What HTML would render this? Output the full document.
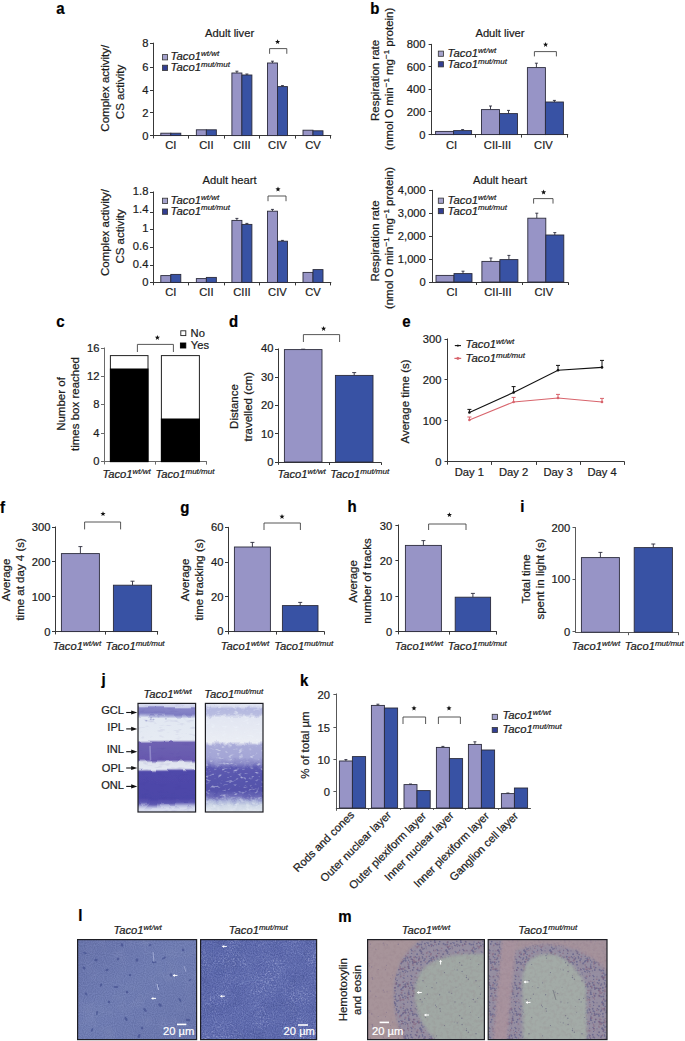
<!DOCTYPE html>
<html><head><meta charset="utf-8"><title>Taco1 figure</title>
<style>
html,body{margin:0;padding:0;background:#fff;width:685px;height:1041px;overflow:hidden;}
svg{display:block;font-family:"Liberation Sans",sans-serif;}
text{font-family:"Liberation Sans",sans-serif;stroke:#1c1c1c;stroke-width:0.22px;}
</style></head><body>
<svg width="685" height="1041" viewBox="0 0 685 1041" font-family="Liberation Sans, sans-serif" fill="#1c1c1c" color="#1c1c1c"><defs>
<linearGradient id="jwt" x1="0" y1="0" x2="0" y2="1">
 <stop offset="0" stop-color="#dcdff0"/><stop offset="0.028" stop-color="#d0d4ec"/><stop offset="0.042" stop-color="#8886c8"/>
 <stop offset="0.097" stop-color="#7e7cc2"/><stop offset="0.12" stop-color="#b0b4dc"/><stop offset="0.139" stop-color="#e2e8f2"/>
 <stop offset="0.337" stop-color="#e6ebf3"/><stop offset="0.36" stop-color="#6e62b2"/><stop offset="0.52" stop-color="#6658ae"/>
 <stop offset="0.546" stop-color="#dfe3ef"/><stop offset="0.606" stop-color="#e4e8f2"/><stop offset="0.629" stop-color="#5048aa"/>
 <stop offset="0.873" stop-color="#4c46a8"/><stop offset="0.919" stop-color="#5c56b0"/><stop offset="0.951" stop-color="#b8bce0"/>
 <stop offset="0.974" stop-color="#d8ddef"/><stop offset="1" stop-color="#d4d8ec"/>
</linearGradient>
<linearGradient id="jmut" x1="0" y1="0" x2="0" y2="1">
 <stop offset="0" stop-color="#e0e4f0"/><stop offset="0.025" stop-color="#d8dcee"/><stop offset="0.05" stop-color="#b4b8e0"/>
 <stop offset="0.10" stop-color="#b8bce0"/><stop offset="0.13" stop-color="#e2e6f2"/><stop offset="0.35" stop-color="#eaedf4"/>
 <stop offset="0.39" stop-color="#a8aad8"/><stop offset="0.50" stop-color="#a4a6d6"/><stop offset="0.55" stop-color="#8c8cc8"/>
 <stop offset="0.60" stop-color="#5c5ab0"/><stop offset="0.80" stop-color="#5452aa"/><stop offset="0.86" stop-color="#6e6cb8"/>
 <stop offset="0.90" stop-color="#a8b0d8"/><stop offset="0.94" stop-color="#cdd6e6"/><stop offset="1" stop-color="#e2e8f0"/>
</linearGradient>
<linearGradient id="lwt" x1="0" y1="0" x2="1" y2="1">
 <stop offset="0" stop-color="#6672ab"/><stop offset="0.45" stop-color="#6e7cb4"/><stop offset="1" stop-color="#6875ad"/>
</linearGradient>
<linearGradient id="lmut" x1="0" y1="0" x2="1" y2="1">
 <stop offset="0" stop-color="#5664ac"/><stop offset="0.5" stop-color="#5a68b0"/><stop offset="1" stop-color="#5866ae"/>
</linearGradient>
<radialGradient id="mwt" cx="0.78" cy="0.72" r="0.75">
 <stop offset="0" stop-color="#9ea99f"/><stop offset="0.48" stop-color="#a0a8a0"/><stop offset="0.56" stop-color="#8c86a4"/>
 <stop offset="0.70" stop-color="#8a82a2"/><stop offset="0.78" stop-color="#a898a0"/><stop offset="1" stop-color="#aa9a9e"/>
</radialGradient>
<radialGradient id="mmut" cx="0.52" cy="0.85" r="0.62">
 <stop offset="0" stop-color="#9fab9f"/><stop offset="0.62" stop-color="#a2aaa0"/><stop offset="0.70" stop-color="#8a84a6"/>
 <stop offset="0.86" stop-color="#8c82a0"/><stop offset="0.92" stop-color="#a8909c"/><stop offset="1" stop-color="#8e86a4"/>
</radialGradient>

<filter id="fSpeckW" color-interpolation-filters="sRGB" x="0" y="0" width="1" height="1">
 <feTurbulence type="fractalNoise" baseFrequency="0.55" numOctaves="2" seed="7"/>
 <feColorMatrix type="matrix" values="0 0 0 0 0.85  0 0 0 0 0.88  0 0 0 0 1  5 0 0 0 -2.85"/>
 <feComposite in2="SourceAlpha" operator="in"/>
</filter>
<filter id="fSpeckW2" color-interpolation-filters="sRGB" x="0" y="0" width="1" height="1">
 <feTurbulence type="fractalNoise" baseFrequency="0.5" numOctaves="2" seed="21"/>
 <feColorMatrix type="matrix" values="0 0 0 0 0.9  0 0 0 0 0.92  0 0 0 0 1  4 0 0 0 -2.35"/>
 <feComposite in2="SourceAlpha" operator="in"/>
</filter>
<filter id="fMottle" color-interpolation-filters="sRGB" x="0" y="0" width="1" height="1">
 <feTurbulence type="fractalNoise" baseFrequency="0.07" numOctaves="3" seed="2"/>
 <feColorMatrix type="matrix" values="0 0 0 0 0.25  0 0 0 0 0.28  0 0 0 0 0.55  1.6 0 0 0 -0.72"/>
 <feComposite in2="SourceAlpha" operator="in"/>
</filter>
<filter id="fMottleN" color-interpolation-filters="sRGB" x="0" y="0" width="1" height="1">
 <feTurbulence type="fractalNoise" baseFrequency="0.3" numOctaves="2" seed="8"/>
 <feColorMatrix type="matrix" values="0 0 0 0 0.55  0 0 0 0 0.45  0 0 0 0 0.5  2.2 0 0 0 -1.0"/>
 <feComposite in2="SourceAlpha" operator="in"/>
</filter>
<filter id="fMottleL" color-interpolation-filters="sRGB" x="0" y="0" width="1" height="1">
 <feTurbulence type="fractalNoise" baseFrequency="0.06" numOctaves="3" seed="5"/>
 <feColorMatrix type="matrix" values="0 0 0 0 0.75  0 0 0 0 0.78  0 0 0 0 0.9  1.6 0 0 0 -0.75"/>
 <feComposite in2="SourceAlpha" operator="in"/>
</filter>
<filter id="fDotsP" color-interpolation-filters="sRGB" x="0" y="0" width="1" height="1">
 <feTurbulence type="fractalNoise" baseFrequency="0.42" numOctaves="1" seed="11"/>
 <feColorMatrix type="matrix" values="0 0 0 0 0.36  0 0 0 0 0.32  0 0 0 0 0.52  8 0 0 0 -4.3"/>
 <feComposite in2="SourceAlpha" operator="in"/>
</filter>
<filter id="fDotsP2" color-interpolation-filters="sRGB" x="0" y="0" width="1" height="1">
 <feTurbulence type="fractalNoise" baseFrequency="0.42" numOctaves="1" seed="4"/>
 <feColorMatrix type="matrix" values="0 0 0 0 0.42  0 0 0 0 0.40  0 0 0 0 0.52  10 0 0 0 -6.6"/>
 <feComposite in2="SourceAlpha" operator="in"/>
</filter>
<filter id="fJmut" color-interpolation-filters="sRGB" x="0" y="0" width="1" height="1">
 <feTurbulence type="fractalNoise" baseFrequency="0.18 0.35" numOctaves="2" seed="9"/>
 <feColorMatrix type="matrix" values="0 0 0 0 0.93  0 0 0 0 0.95  0 0 0 0 0.98  4 0 0 0 -2.3"/>
 <feComposite in2="SourceAlpha" operator="in"/>
</filter>
<filter id="fJwt" color-interpolation-filters="sRGB" x="0" y="0" width="1" height="1">
 <feTurbulence type="fractalNoise" baseFrequency="0.12 0.3" numOctaves="2" seed="13"/>
 <feColorMatrix type="matrix" values="0 0 0 0 0.30  0 0 0 0 0.26  0 0 0 0 0.62  2.5 0 0 0 -1.45"/>
 <feComposite in2="SourceAlpha" operator="in"/>
</filter>
<filter id="fBlur1" color-interpolation-filters="sRGB" x="-0.1" y="-0.1" width="1.2" height="1.2"><feGaussianBlur stdDeviation="1.6"/></filter>
<filter id="fBlur2" color-interpolation-filters="sRGB" x="-0.1" y="-0.1" width="1.2" height="1.2"><feGaussianBlur stdDeviation="3"/></filter>
<filter id="fWave" x="-0.05" y="-0.05" width="1.1" height="1.1">
 <feTurbulence type="fractalNoise" baseFrequency="0.08 0.05" numOctaves="2" seed="31" result="t"/>
 <feDisplacementMap in="SourceGraphic" in2="t" scale="5" xChannelSelector="R" yChannelSelector="G"/>
</filter>
<filter id="fWave2" x="-0.05" y="-0.05" width="1.1" height="1.1">
 <feTurbulence type="fractalNoise" baseFrequency="0.15 0.12" numOctaves="2" seed="37" result="t"/>
 <feDisplacementMap in="SourceGraphic" in2="t" scale="6" xChannelSelector="R" yChannelSelector="G"/>
</filter>
<filter id="fSpeckPatchy" color-interpolation-filters="sRGB" x="0" y="0" width="1" height="1">
 <feTurbulence type="fractalNoise" baseFrequency="0.6" numOctaves="2" seed="7" result="hi"/>
 <feColorMatrix in="hi" type="matrix" values="0 0 0 0 0.86  0 0 0 0 0.88  0 0 0 0 1  5 0 0 0 -2.6" result="sp"/>
 <feTurbulence type="fractalNoise" baseFrequency="0.035" numOctaves="2" seed="12" result="lo"/>
 <feColorMatrix in="lo" type="matrix" values="0 0 0 0 0  0 0 0 0 0  0 0 0 0 0  3.5 0 0 0 -1.35" result="mask"/>
 <feComposite in="sp" in2="mask" operator="in" result="sp2"/>
 <feComposite in="sp2" in2="SourceAlpha" operator="in"/>
</filter>
<filter id="fGrain" color-interpolation-filters="sRGB" x="0" y="0" width="1" height="1">
 <feTurbulence type="fractalNoise" baseFrequency="0.9" numOctaves="1" seed="41"/>
 <feColorMatrix type="matrix" values="1.6 0 0 0 -0.3  1.6 0 0 0 -0.3  1.6 0 0 0 -0.2  0 0 0 0 1"/>
 <feComposite in2="SourceAlpha" operator="in"/>
</filter>
<filter id="fSoft" x="-0.5" y="-0.5" width="2" height="2"><feGaussianBlur stdDeviation="0.45"/></filter>
<clipPath id="cJ1"><rect x="138" y="703.4" width="57.6" height="108.6"/></clipPath>
<clipPath id="cJ2"><rect x="205.4" y="703.4" width="57.6" height="108.6"/></clipPath>
<clipPath id="cL1"><rect x="77.6" y="939.6" width="119" height="100"/></clipPath>
<clipPath id="cL2"><rect x="200.6" y="939.6" width="116" height="100"/></clipPath>
<clipPath id="cM1"><rect x="367.6" y="939.6" width="116.8" height="100"/></clipPath>
<clipPath id="cM2"><rect x="488.2" y="939.6" width="118.8" height="100"/></clipPath>
<pattern id="pBand" patternUnits="userSpaceOnUse" width="26" height="26"><g fill="#4e4e80" opacity="0.55"><circle cx="3.49" cy="22.03" r="0.89"/><circle cx="6.63" cy="12.88" r="0.75"/><circle cx="16.94" cy="20.51" r="0.59"/><circle cx="0.74" cy="21.73" r="0.74"/><circle cx="26.74" cy="21.73" r="0.74"/><circle cx="19.82" cy="0.05" r="0.75"/><circle cx="19.82" cy="26.05" r="0.75"/><circle cx="18.76" cy="5.95" r="0.98"/><circle cx="23.44" cy="0.8" r="0.56"/><circle cx="14.08" cy="24.42" r="0.72"/><circle cx="5.63" cy="10.98" r="0.56"/><circle cx="5.76" cy="11.39" r="0.77"/><circle cx="6.06" cy="6" r="0.65"/><circle cx="11.95" cy="7.53" r="0.56"/><circle cx="21.78" cy="14.47" r="0.84"/><circle cx="4.83" cy="-0.19" r="0.94"/><circle cx="4.83" cy="25.81" r="0.94"/><circle cx="3.14" cy="8.65" r="0.87"/><circle cx="18.49" cy="24.35" r="0.74"/><circle cx="21.58" cy="17.43" r="0.69"/><circle cx="15.28" cy="22.94" r="0.93"/><circle cx="13.14" cy="15.31" r="0.57"/><circle cx="6.31" cy="20.73" r="0.74"/><circle cx="4.5" cy="14.27" r="0.87"/><circle cx="17.54" cy="9.74" r="0.75"/><circle cx="13.22" cy="20.24" r="0.78"/><circle cx="10.22" cy="12.73" r="0.56"/><circle cx="1.13" cy="18.29" r="0.99"/><circle cx="15.42" cy="10.23" r="0.63"/><circle cx="13.06" cy="-0.47" r="0.9"/><circle cx="13.06" cy="25.53" r="0.9"/><circle cx="14.03" cy="22.37" r="0.65"/><circle cx="13.36" cy="24.76" r="0.81"/><circle cx="11.94" cy="7" r="0.8"/><circle cx="24.89" cy="0.15" r="0.9"/><circle cx="24.89" cy="26.15" r="0.9"/><circle cx="21.33" cy="23.04" r="0.88"/><circle cx="21.04" cy="13.49" r="0.8"/><circle cx="11.08" cy="1.46" r="0.94"/><circle cx="14.82" cy="5.2" r="0.78"/><circle cx="12.61" cy="9.28" r="0.71"/><circle cx="14" cy="16.21" r="0.83"/><circle cx="11.91" cy="0.73" r="0.65"/><circle cx="4.61" cy="15.2" r="0.94"/><circle cx="20.76" cy="20.72" r="0.92"/><circle cx="6.64" cy="21.89" r="0.85"/><circle cx="2.16" cy="0.43" r="0.56"/><circle cx="2.16" cy="26.43" r="0.56"/><circle cx="19.65" cy="6.49" r="0.6"/><circle cx="16.24" cy="8.95" r="0.58"/><circle cx="4.15" cy="13.71" r="0.63"/><circle cx="7.1" cy="18.5" r="0.75"/><circle cx="8.37" cy="12.32" r="0.56"/><circle cx="10.05" cy="10.94" r="0.63"/><circle cx="2.83" cy="23.4" r="0.78"/><circle cx="5.44" cy="15.75" r="0.92"/><circle cx="0.54" cy="0.46" r="0.62"/><circle cx="0.54" cy="26.46" r="0.62"/><circle cx="26.54" cy="0.46" r="0.62"/><circle cx="26.54" cy="26.46" r="0.62"/><circle cx="18.69" cy="4.17" r="0.87"/><circle cx="17.63" cy="14.16" r="0.65"/><circle cx="-0.63" cy="20.74" r="0.78"/><circle cx="25.37" cy="20.74" r="0.78"/><circle cx="5.8" cy="16.86" r="0.73"/><circle cx="14.97" cy="8.35" r="0.83"/><circle cx="1.53" cy="7.76" r="0.99"/><circle cx="22.76" cy="7.97" r="0.94"/><circle cx="8.07" cy="24.42" r="0.88"/><circle cx="10.82" cy="6.56" r="0.55"/><circle cx="22.85" cy="0.99" r="0.92"/><circle cx="25.02" cy="14.83" r="0.63"/><circle cx="22.56" cy="-0.68" r="0.87"/><circle cx="22.56" cy="25.32" r="0.87"/><circle cx="13.23" cy="9.83" r="0.71"/><circle cx="5.35" cy="17.53" r="0.74"/><circle cx="5.05" cy="2.72" r="0.85"/><circle cx="7.7" cy="12.99" r="0.7"/><circle cx="22.66" cy="23.39" r="0.56"/><circle cx="5.22" cy="8.52" r="0.99"/><circle cx="20.35" cy="8.82" r="0.65"/><circle cx="17.54" cy="21.78" r="0.97"/><circle cx="8.94" cy="22.94" r="0.86"/><circle cx="12.6" cy="-0.38" r="0.66"/><circle cx="12.6" cy="25.62" r="0.66"/><circle cx="18.86" cy="2.2" r="0.63"/><circle cx="23.69" cy="5.54" r="0.89"/><circle cx="15.61" cy="21.87" r="0.72"/><circle cx="8.85" cy="7.57" r="0.94"/><circle cx="15.7" cy="24.81" r="0.95"/><circle cx="3.52" cy="14.33" r="0.6"/><circle cx="1.02" cy="1.9" r="0.94"/></g></pattern><pattern id="pBand2" patternUnits="userSpaceOnUse" width="31" height="31"><g fill="#7c5470" opacity="0.45"><circle cx="29.64" cy="29.38" r="0.58"/><circle cx="2.63" cy="25.9" r="0.88"/><circle cx="20.76" cy="9.55" r="0.82"/><circle cx="18.81" cy="18.02" r="0.62"/><circle cx="13.35" cy="12.2" r="0.88"/><circle cx="-0.16" cy="29.43" r="0.79"/><circle cx="30.84" cy="29.43" r="0.79"/><circle cx="13.79" cy="8.32" r="0.57"/><circle cx="0.85" cy="14.41" r="0.69"/><circle cx="11.78" cy="27.65" r="0.79"/><circle cx="17.38" cy="7.32" r="0.56"/><circle cx="10.08" cy="4.24" r="0.78"/><circle cx="-0.04" cy="20.91" r="0.63"/><circle cx="30.96" cy="20.91" r="0.63"/><circle cx="27.7" cy="24.7" r="0.88"/><circle cx="28.1" cy="23.65" r="0.91"/><circle cx="10.97" cy="-0.59" r="0.98"/><circle cx="10.97" cy="30.41" r="0.98"/><circle cx="5" cy="23.37" r="0.87"/><circle cx="14.3" cy="16.44" r="0.77"/><circle cx="28.67" cy="15.53" r="0.92"/><circle cx="10.97" cy="27.37" r="0.95"/><circle cx="14.29" cy="17.6" r="0.96"/><circle cx="22.44" cy="15.08" r="0.65"/><circle cx="10.06" cy="21.69" r="0.62"/><circle cx="28.15" cy="8.31" r="0.96"/><circle cx="9.6" cy="29.68" r="0.87"/><circle cx="15.63" cy="16.05" r="0.84"/><circle cx="18.23" cy="9.67" r="0.64"/><circle cx="15.87" cy="28.96" r="0.83"/><circle cx="2.34" cy="25.43" r="0.88"/><circle cx="28.14" cy="5.93" r="0.89"/><circle cx="1.82" cy="20.24" r="0.67"/><circle cx="7.03" cy="27.14" r="0.6"/><circle cx="16.19" cy="26.47" r="0.66"/><circle cx="6.52" cy="27.3" r="0.74"/><circle cx="22.23" cy="0.99" r="0.71"/><circle cx="5.33" cy="20.86" r="0.59"/><circle cx="29.59" cy="0.79" r="0.88"/><circle cx="29.59" cy="31.79" r="0.88"/><circle cx="0.66" cy="7.93" r="0.92"/><circle cx="31.66" cy="7.93" r="0.92"/><circle cx="4.87" cy="5.7" r="0.86"/><circle cx="11.95" cy="1.34" r="1"/><circle cx="4.69" cy="1.12" r="0.7"/><circle cx="19.07" cy="23.02" r="0.6"/><circle cx="10.45" cy="0.96" r="0.75"/><circle cx="23.75" cy="22.94" r="0.96"/><circle cx="23.43" cy="26.74" r="0.87"/><circle cx="14.66" cy="6.99" r="0.85"/><circle cx="9.81" cy="3.16" r="0.75"/><circle cx="27.12" cy="3.95" r="0.81"/><circle cx="12.18" cy="15.96" r="0.61"/><circle cx="29.75" cy="8.03" r="0.82"/><circle cx="13.01" cy="0.56" r="0.8"/><circle cx="13.01" cy="31.56" r="0.8"/><circle cx="4.36" cy="1.76" r="0.57"/><circle cx="5" cy="2.97" r="0.84"/><circle cx="15.76" cy="-0.51" r="0.97"/><circle cx="15.76" cy="30.49" r="0.97"/><circle cx="-0.17" cy="7.21" r="0.75"/><circle cx="30.83" cy="7.21" r="0.75"/><circle cx="7.77" cy="18.33" r="0.83"/><circle cx="24.81" cy="21.99" r="0.67"/><circle cx="13.11" cy="16.31" r="0.55"/><circle cx="1.1" cy="12.67" r="0.6"/><circle cx="22.44" cy="7.47" r="0.59"/><circle cx="5.63" cy="7.18" r="0.65"/></g></pattern><pattern id="pSparse" patternUnits="userSpaceOnUse" width="53" height="53"><g fill="#5c5878" opacity="0.6"><circle cx="12.61" cy="28.84" r="0.56"/><circle cx="32.01" cy="33.16" r="0.47"/><circle cx="0.7" cy="44.39" r="0.53"/><circle cx="12.42" cy="-0.23" r="0.59"/><circle cx="12.42" cy="52.77" r="0.59"/><circle cx="44.33" cy="25.25" r="0.64"/><circle cx="7.98" cy="33.65" r="0.71"/><circle cx="27.73" cy="39.29" r="0.65"/><circle cx="3.39" cy="40.19" r="0.63"/><circle cx="15.97" cy="1.64" r="0.71"/><circle cx="25.06" cy="38.1" r="0.71"/><circle cx="37.85" cy="48.82" r="0.57"/><circle cx="42.45" cy="23.56" r="0.73"/><circle cx="46.58" cy="5.17" r="0.49"/><circle cx="11.5" cy="51.17" r="0.58"/><circle cx="33.21" cy="15.95" r="0.6"/><circle cx="20.45" cy="18.6" r="0.63"/><circle cx="30.97" cy="47.92" r="0.65"/><circle cx="49.23" cy="45.39" r="0.75"/><circle cx="35.58" cy="8.64" r="0.71"/><circle cx="51.13" cy="47.95" r="0.62"/><circle cx="37.83" cy="11.19" r="0.7"/><circle cx="30.4" cy="15.1" r="0.47"/><circle cx="45.26" cy="52.46" r="0.48"/><circle cx="42.43" cy="21.75" r="0.5"/><circle cx="15.58" cy="40.75" r="0.71"/><circle cx="2.34" cy="32.57" r="0.46"/><circle cx="38.08" cy="17.54" r="0.71"/><circle cx="51.97" cy="26.79" r="0.75"/><circle cx="16.41" cy="4.08" r="0.63"/><circle cx="1.66" cy="10.46" r="0.57"/></g></pattern><pattern id="pSparse2" patternUnits="userSpaceOnUse" width="47" height="47"><g fill="#6a5c84" opacity="0.5"><circle cx="11.09" cy="4.85" r="0.57"/><circle cx="7.28" cy="3.13" r="0.57"/><circle cx="43.14" cy="37.62" r="0.68"/><circle cx="10.43" cy="25.22" r="0.53"/><circle cx="8.12" cy="4.99" r="0.51"/><circle cx="43.59" cy="38.96" r="0.69"/><circle cx="37.62" cy="9.09" r="0.54"/><circle cx="29.47" cy="34.4" r="0.71"/><circle cx="41.36" cy="4.08" r="0.63"/><circle cx="31.57" cy="23.78" r="0.5"/><circle cx="22.26" cy="4.2" r="0.73"/><circle cx="40.68" cy="25.74" r="0.54"/><circle cx="42.72" cy="26.9" r="0.71"/><circle cx="39.86" cy="23.89" r="0.57"/><circle cx="28.15" cy="20.26" r="0.5"/><circle cx="14.34" cy="38.19" r="0.46"/><circle cx="2.18" cy="29.44" r="0.53"/><circle cx="25.13" cy="22.15" r="0.55"/><circle cx="-0.13" cy="9.19" r="0.57"/><circle cx="46.87" cy="9.19" r="0.57"/><circle cx="9.53" cy="29.74" r="0.53"/><circle cx="16.72" cy="35.11" r="0.55"/><circle cx="26.25" cy="42.5" r="0.48"/></g></pattern></defs>
<text transform="translate(56.2,14.4) scale(1,1.12)" font-size="15" font-weight="bold" fill="#000" style="stroke:#000">a</text>
<text transform="translate(370.2,14.4) scale(1,1.12)" font-size="15" font-weight="bold" fill="#000" style="stroke:#000">b</text>
<text x="229.6" y="37.4" font-size="11.2" text-anchor="middle">Adult liver</text>
<line x1="153.5" y1="42.7" x2="153.5" y2="138.4" stroke="#383838" stroke-width="1"/>
<line x1="150" y1="43.5" x2="153.5" y2="43.5" stroke="#383838" stroke-width="1"/>
<text x="148.4" y="47.32" font-size="11.2" text-anchor="end">8</text>
<line x1="150" y1="67.5" x2="153.5" y2="67.5" stroke="#383838" stroke-width="1"/>
<text x="148.4" y="71.32" font-size="11.2" text-anchor="end">6</text>
<line x1="150" y1="90.5" x2="153.5" y2="90.5" stroke="#383838" stroke-width="1"/>
<text x="148.4" y="94.12" font-size="11.2" text-anchor="end">4</text>
<line x1="150" y1="112.5" x2="153.5" y2="112.5" stroke="#383838" stroke-width="1"/>
<text x="148.4" y="116.82" font-size="11.2" text-anchor="end">2</text>
<line x1="150" y1="135.5" x2="153.5" y2="135.5" stroke="#383838" stroke-width="1"/>
<text x="148.4" y="139.52" font-size="11.2" text-anchor="end">0</text>
<line x1="152.5" y1="135.5" x2="331.3" y2="135.5" stroke="#383838" stroke-width="1"/>
<line x1="188.5" y1="135.5" x2="188.5" y2="138.6" stroke="#383838" stroke-width="1"/>
<line x1="224.5" y1="135.5" x2="224.5" y2="138.6" stroke="#383838" stroke-width="1"/>
<line x1="259.5" y1="135.5" x2="259.5" y2="138.6" stroke="#383838" stroke-width="1"/>
<line x1="295.5" y1="135.5" x2="295.5" y2="138.6" stroke="#383838" stroke-width="1"/>
<line x1="330.5" y1="135.5" x2="330.5" y2="138.6" stroke="#383838" stroke-width="1"/>
<rect x="160.8" y="133.2" width="10" height="2.4" fill="#9794c6" stroke="#2b2b3b" stroke-width="0.9"/>
<rect x="170.8" y="133.2" width="10" height="2.4" fill="#3852a4" stroke="#2b2b3b" stroke-width="0.9"/>
<text x="170.8" y="148.9" font-size="11.2" text-anchor="middle">CI</text>
<rect x="196.35" y="129.8" width="10" height="5.8" fill="#9794c6" stroke="#2b2b3b" stroke-width="0.9"/>
<rect x="206.35" y="129.8" width="10" height="5.8" fill="#3852a4" stroke="#2b2b3b" stroke-width="0.9"/>
<text x="206.35" y="148.9" font-size="11.2" text-anchor="middle">CII</text>
<line x1="236.9" y1="71.2" x2="236.9" y2="73" stroke="#2b2b3b" stroke-width="0.9"/>
<line x1="235.4" y1="71.2" x2="238.4" y2="71.2" stroke="#2b2b3b" stroke-width="0.9"/>
<rect x="231.9" y="73" width="10" height="62.6" fill="#9794c6" stroke="#2b2b3b" stroke-width="0.9"/>
<line x1="246.9" y1="74" x2="246.9" y2="75" stroke="#2b2b3b" stroke-width="0.9"/>
<line x1="245.4" y1="74" x2="248.4" y2="74" stroke="#2b2b3b" stroke-width="0.9"/>
<rect x="241.9" y="75" width="10" height="60.6" fill="#3852a4" stroke="#2b2b3b" stroke-width="0.9"/>
<text x="241.9" y="148.9" font-size="11.2" text-anchor="middle">CIII</text>
<line x1="272.45" y1="61.2" x2="272.45" y2="63" stroke="#2b2b3b" stroke-width="0.9"/>
<line x1="270.95" y1="61.2" x2="273.95" y2="61.2" stroke="#2b2b3b" stroke-width="0.9"/>
<rect x="267.45" y="63" width="10" height="72.6" fill="#9794c6" stroke="#2b2b3b" stroke-width="0.9"/>
<line x1="282.45" y1="85.6" x2="282.45" y2="86.6" stroke="#2b2b3b" stroke-width="0.9"/>
<line x1="280.95" y1="85.6" x2="283.95" y2="85.6" stroke="#2b2b3b" stroke-width="0.9"/>
<rect x="277.45" y="86.6" width="10" height="49" fill="#3852a4" stroke="#2b2b3b" stroke-width="0.9"/>
<text x="277.45" y="148.9" font-size="11.2" text-anchor="middle">CIV</text>
<rect x="303" y="130.2" width="10" height="5.4" fill="#9794c6" stroke="#2b2b3b" stroke-width="0.9"/>
<rect x="313" y="130.8" width="10" height="4.8" fill="#3852a4" stroke="#2b2b3b" stroke-width="0.9"/>
<text x="313" y="148.9" font-size="11.2" text-anchor="middle">CV</text>
<rect x="162.5" y="54.6" width="5.1" height="5.3" fill="#a4a2cc" stroke="#333" stroke-width="0.8"/>
<rect x="162.5" y="65.2" width="5.1" height="5.3" fill="#323e92" stroke="#333" stroke-width="0.8"/>
<text x="170.6" y="60.2" font-size="11.3" font-style="italic">Taco1<tspan font-size="8" dy="-4.2">wt/wt</tspan></text>
<text x="170.6" y="70.8" font-size="11.3" font-style="italic">Taco1<tspan font-size="8" dy="-4.2">mut/mut</tspan></text>
<path d="M269.6,53.8V48.6H286.8V53.8" fill="none" stroke="#444" stroke-width="0.9"/>
<polygon points="277.6,39.2 278.28,40.97 280.17,41.07 278.69,42.26 279.19,44.08 277.6,43.05 276.01,44.08 276.51,42.26 275.03,41.07 276.92,40.97" fill="#111"/>
<text transform="translate(109.1,88.2) rotate(-90)" font-size="11.5" text-anchor="middle">Complex activity/</text>
<text transform="translate(123.9,92) rotate(-90)" font-size="11.5" text-anchor="middle">CS activity</text>
<text x="229.6" y="183.6" font-size="11.2" text-anchor="middle">Adult heart</text>
<line x1="153.5" y1="191.5" x2="153.5" y2="285.2" stroke="#383838" stroke-width="1"/>
<line x1="150" y1="192.5" x2="153.5" y2="192.5" stroke="#383838" stroke-width="1"/>
<text x="148.4" y="194.82" font-size="11.2" text-anchor="end">1.8</text>
<line x1="150" y1="212.5" x2="153.5" y2="212.5" stroke="#383838" stroke-width="1"/>
<text x="148.4" y="213.22" font-size="11.2" text-anchor="end">1.4</text>
<line x1="150" y1="229.5" x2="153.5" y2="229.5" stroke="#383838" stroke-width="1"/>
<text x="148.4" y="231.62" font-size="11.2" text-anchor="end">1</text>
<line x1="150" y1="247.5" x2="153.5" y2="247.5" stroke="#383838" stroke-width="1"/>
<text x="148.4" y="250.12" font-size="11.2" text-anchor="end">0.6</text>
<line x1="150" y1="265.5" x2="153.5" y2="265.5" stroke="#383838" stroke-width="1"/>
<text x="148.4" y="268.32" font-size="11.2" text-anchor="end">0.4</text>
<line x1="150" y1="282.5" x2="153.5" y2="282.5" stroke="#383838" stroke-width="1"/>
<text x="148.4" y="286.42" font-size="11.2" text-anchor="end">0</text>
<line x1="152.5" y1="282.5" x2="331.3" y2="282.5" stroke="#383838" stroke-width="1"/>
<line x1="188.5" y1="282.5" x2="188.5" y2="285.4" stroke="#383838" stroke-width="1"/>
<line x1="224.5" y1="282.5" x2="224.5" y2="285.4" stroke="#383838" stroke-width="1"/>
<line x1="259.5" y1="282.5" x2="259.5" y2="285.4" stroke="#383838" stroke-width="1"/>
<line x1="295.5" y1="282.5" x2="295.5" y2="285.4" stroke="#383838" stroke-width="1"/>
<line x1="330.5" y1="282.5" x2="330.5" y2="285.4" stroke="#383838" stroke-width="1"/>
<rect x="160.8" y="275.6" width="10" height="6.8" fill="#9794c6" stroke="#2b2b3b" stroke-width="0.9"/>
<rect x="170.8" y="274.4" width="10" height="8" fill="#3852a4" stroke="#2b2b3b" stroke-width="0.9"/>
<text x="170.8" y="296.4" font-size="11.2" text-anchor="middle">CI</text>
<rect x="196.35" y="278.6" width="10" height="3.8" fill="#9794c6" stroke="#2b2b3b" stroke-width="0.9"/>
<rect x="206.35" y="277.4" width="10" height="5" fill="#3852a4" stroke="#2b2b3b" stroke-width="0.9"/>
<text x="206.35" y="296.4" font-size="11.2" text-anchor="middle">CII</text>
<line x1="236.9" y1="218.4" x2="236.9" y2="220.4" stroke="#2b2b3b" stroke-width="0.9"/>
<line x1="235.4" y1="218.4" x2="238.4" y2="218.4" stroke="#2b2b3b" stroke-width="0.9"/>
<rect x="231.9" y="220.4" width="10" height="62" fill="#9794c6" stroke="#2b2b3b" stroke-width="0.9"/>
<line x1="246.9" y1="223.4" x2="246.9" y2="224.4" stroke="#2b2b3b" stroke-width="0.9"/>
<line x1="245.4" y1="223.4" x2="248.4" y2="223.4" stroke="#2b2b3b" stroke-width="0.9"/>
<rect x="241.9" y="224.4" width="10" height="58" fill="#3852a4" stroke="#2b2b3b" stroke-width="0.9"/>
<text x="241.9" y="296.4" font-size="11.2" text-anchor="middle">CIII</text>
<line x1="272.45" y1="209.4" x2="272.45" y2="211.2" stroke="#2b2b3b" stroke-width="0.9"/>
<line x1="270.95" y1="209.4" x2="273.95" y2="209.4" stroke="#2b2b3b" stroke-width="0.9"/>
<rect x="267.45" y="211.2" width="10" height="71.2" fill="#9794c6" stroke="#2b2b3b" stroke-width="0.9"/>
<line x1="282.45" y1="240.4" x2="282.45" y2="241.2" stroke="#2b2b3b" stroke-width="0.9"/>
<line x1="280.95" y1="240.4" x2="283.95" y2="240.4" stroke="#2b2b3b" stroke-width="0.9"/>
<rect x="277.45" y="241.2" width="10" height="41.2" fill="#3852a4" stroke="#2b2b3b" stroke-width="0.9"/>
<text x="277.45" y="296.4" font-size="11.2" text-anchor="middle">CIV</text>
<rect x="303" y="272.4" width="10" height="10" fill="#9794c6" stroke="#2b2b3b" stroke-width="0.9"/>
<rect x="313" y="269.6" width="10" height="12.8" fill="#3852a4" stroke="#2b2b3b" stroke-width="0.9"/>
<text x="313" y="296.4" font-size="11.2" text-anchor="middle">CV</text>
<rect x="162.5" y="198.2" width="5.1" height="5.3" fill="#a4a2cc" stroke="#333" stroke-width="0.8"/>
<rect x="162.5" y="209" width="5.1" height="5.3" fill="#323e92" stroke="#333" stroke-width="0.8"/>
<text x="170.6" y="203.8" font-size="11.3" font-style="italic">Taco1<tspan font-size="8" dy="-4.2">wt/wt</tspan></text>
<text x="170.6" y="214.6" font-size="11.3" font-style="italic">Taco1<tspan font-size="8" dy="-4.2">mut/mut</tspan></text>
<path d="M268,201.2V196H286V201.2" fill="none" stroke="#444" stroke-width="0.9"/>
<polygon points="278,186.6 278.68,188.37 280.57,188.47 279.09,189.66 279.59,191.48 278,190.45 276.41,191.48 276.91,189.66 275.43,188.47 277.32,188.37" fill="#111"/>
<text transform="translate(109.1,232.6) rotate(-90)" font-size="11.5" text-anchor="middle">Complex activity/</text>
<text transform="translate(123.9,236.4) rotate(-90)" font-size="11.5" text-anchor="middle">CS activity</text>
<text x="500" y="37" font-size="11.2" text-anchor="middle">Adult liver</text>
<line x1="431.5" y1="43.9" x2="431.5" y2="135.1" stroke="#383838" stroke-width="1"/>
<line x1="428.6" y1="44.5" x2="431.5" y2="44.5" stroke="#383838" stroke-width="1"/>
<text x="425.4" y="48.32" font-size="11.2" text-anchor="end">800</text>
<line x1="428.6" y1="66.5" x2="431.5" y2="66.5" stroke="#383838" stroke-width="1"/>
<text x="425.4" y="70.72" font-size="11.2" text-anchor="end">600</text>
<line x1="428.6" y1="89.5" x2="431.5" y2="89.5" stroke="#383838" stroke-width="1"/>
<text x="425.4" y="93.12" font-size="11.2" text-anchor="end">400</text>
<line x1="428.6" y1="111.5" x2="431.5" y2="111.5" stroke="#383838" stroke-width="1"/>
<text x="425.4" y="115.72" font-size="11.2" text-anchor="end">200</text>
<line x1="428.6" y1="134.5" x2="431.5" y2="134.5" stroke="#383838" stroke-width="1"/>
<text x="425.4" y="138.52" font-size="11.2" text-anchor="end">0</text>
<line x1="431.1" y1="134.5" x2="568.2" y2="134.5" stroke="#383838" stroke-width="1"/>
<line x1="475.5" y1="134.5" x2="475.5" y2="137.6" stroke="#383838" stroke-width="1"/>
<line x1="521.5" y1="134.5" x2="521.5" y2="137.6" stroke="#383838" stroke-width="1"/>
<line x1="567.5" y1="134.5" x2="567.5" y2="137.6" stroke="#383838" stroke-width="1"/>
<rect x="435.6" y="131.4" width="18" height="3.2" fill="#9794c6" stroke="#2b2b3b" stroke-width="0.9"/>
<line x1="462.6" y1="129.6" x2="462.6" y2="130.6" stroke="#2b2b3b" stroke-width="0.9"/>
<line x1="461.1" y1="129.6" x2="464.1" y2="129.6" stroke="#2b2b3b" stroke-width="0.9"/>
<rect x="453.6" y="130.6" width="18" height="4" fill="#3852a4" stroke="#2b2b3b" stroke-width="0.9"/>
<text x="451.6" y="149" font-size="11.2" text-anchor="middle">CI</text>
<line x1="490.5" y1="106" x2="490.5" y2="109.6" stroke="#2b2b3b" stroke-width="0.9"/>
<line x1="489" y1="106" x2="492" y2="106" stroke="#2b2b3b" stroke-width="0.9"/>
<rect x="481.5" y="109.6" width="18" height="25" fill="#9794c6" stroke="#2b2b3b" stroke-width="0.9"/>
<line x1="508.5" y1="110.4" x2="508.5" y2="113.6" stroke="#2b2b3b" stroke-width="0.9"/>
<line x1="507" y1="110.4" x2="510" y2="110.4" stroke="#2b2b3b" stroke-width="0.9"/>
<rect x="499.5" y="113.6" width="18" height="21" fill="#3852a4" stroke="#2b2b3b" stroke-width="0.9"/>
<text x="497.5" y="149" font-size="11.2" text-anchor="middle">CII-III</text>
<line x1="536.4" y1="63.2" x2="536.4" y2="67.6" stroke="#2b2b3b" stroke-width="0.9"/>
<line x1="534.9" y1="63.2" x2="537.9" y2="63.2" stroke="#2b2b3b" stroke-width="0.9"/>
<rect x="527.4" y="67.6" width="18" height="67" fill="#9794c6" stroke="#2b2b3b" stroke-width="0.9"/>
<line x1="554.4" y1="100.4" x2="554.4" y2="102" stroke="#2b2b3b" stroke-width="0.9"/>
<line x1="552.9" y1="100.4" x2="555.9" y2="100.4" stroke="#2b2b3b" stroke-width="0.9"/>
<rect x="545.4" y="102" width="18" height="32.6" fill="#3852a4" stroke="#2b2b3b" stroke-width="0.9"/>
<text x="543.4" y="149" font-size="11.2" text-anchor="middle">CIV</text>
<rect x="438.3" y="51.1" width="5.2" height="5.2" fill="#a4a2cc" stroke="#333" stroke-width="0.8"/>
<rect x="438.3" y="61.7" width="5.2" height="5.2" fill="#323e92" stroke="#333" stroke-width="0.8"/>
<text x="447.6" y="57.2" font-size="11.3" font-style="italic">Taco1<tspan font-size="8" dy="-4.2">wt/wt</tspan></text>
<text x="447.6" y="67.8" font-size="11.3" font-style="italic">Taco1<tspan font-size="8" dy="-4.2">mut/mut</tspan></text>
<path d="M534.4,56.4V51.6H556.4V56.4" fill="none" stroke="#444" stroke-width="0.9"/>
<polygon points="545.6,42 546.28,43.77 548.17,43.87 546.69,45.06 547.19,46.88 545.6,45.85 544.01,46.88 544.51,45.06 543.03,43.87 544.92,43.77" fill="#111"/>
<text transform="translate(379.4,80.4) rotate(-90)" font-size="11.5" text-anchor="middle">Respiration rate</text>
<text transform="translate(393.4,78.8) rotate(-90)" font-size="11.5" text-anchor="middle">(nmol O min<tspan font-size="8" dy="-4">−1</tspan><tspan dy="4"> mg</tspan><tspan font-size="8" dy="-4">−1</tspan><tspan dy="4"> protein)</tspan></text>
<text x="500" y="183.6" font-size="11.2" text-anchor="middle">Adult heart</text>
<line x1="432.5" y1="189.9" x2="432.5" y2="282.5" stroke="#383838" stroke-width="1"/>
<line x1="429" y1="190.5" x2="432.5" y2="190.5" stroke="#383838" stroke-width="1"/>
<text x="425.8" y="194.32" font-size="11.2" text-anchor="end">4,000</text>
<line x1="429" y1="213.5" x2="432.5" y2="213.5" stroke="#383838" stroke-width="1"/>
<text x="425.8" y="217.32" font-size="11.2" text-anchor="end">3,000</text>
<line x1="429" y1="236.5" x2="432.5" y2="236.5" stroke="#383838" stroke-width="1"/>
<text x="425.8" y="240.12" font-size="11.2" text-anchor="end">2,000</text>
<line x1="429" y1="259.5" x2="432.5" y2="259.5" stroke="#383838" stroke-width="1"/>
<text x="425.8" y="263.12" font-size="11.2" text-anchor="end">1,000</text>
<line x1="429" y1="282.5" x2="432.5" y2="282.5" stroke="#383838" stroke-width="1"/>
<text x="425.8" y="285.92" font-size="11.2" text-anchor="end">0</text>
<line x1="431.5" y1="282.5" x2="568.6" y2="282.5" stroke="#383838" stroke-width="1"/>
<line x1="476.5" y1="282.5" x2="476.5" y2="285" stroke="#383838" stroke-width="1"/>
<line x1="522.5" y1="282.5" x2="522.5" y2="285" stroke="#383838" stroke-width="1"/>
<line x1="568.5" y1="282.5" x2="568.5" y2="285" stroke="#383838" stroke-width="1"/>
<rect x="436" y="275.4" width="18" height="6.6" fill="#9794c6" stroke="#2b2b3b" stroke-width="0.9"/>
<line x1="463" y1="271.2" x2="463" y2="273.6" stroke="#2b2b3b" stroke-width="0.9"/>
<line x1="461.5" y1="271.2" x2="464.5" y2="271.2" stroke="#2b2b3b" stroke-width="0.9"/>
<rect x="454" y="273.6" width="18" height="8.4" fill="#3852a4" stroke="#2b2b3b" stroke-width="0.9"/>
<text x="452" y="296.2" font-size="11.2" text-anchor="middle">CI</text>
<line x1="490.9" y1="258" x2="490.9" y2="261.4" stroke="#2b2b3b" stroke-width="0.9"/>
<line x1="489.4" y1="258" x2="492.4" y2="258" stroke="#2b2b3b" stroke-width="0.9"/>
<rect x="481.9" y="261.4" width="18" height="20.6" fill="#9794c6" stroke="#2b2b3b" stroke-width="0.9"/>
<line x1="508.9" y1="255.4" x2="508.9" y2="259.6" stroke="#2b2b3b" stroke-width="0.9"/>
<line x1="507.4" y1="255.4" x2="510.4" y2="255.4" stroke="#2b2b3b" stroke-width="0.9"/>
<rect x="499.9" y="259.6" width="18" height="22.4" fill="#3852a4" stroke="#2b2b3b" stroke-width="0.9"/>
<text x="497.9" y="296.2" font-size="11.2" text-anchor="middle">CII-III</text>
<line x1="536.8" y1="213.2" x2="536.8" y2="218.2" stroke="#2b2b3b" stroke-width="0.9"/>
<line x1="535.3" y1="213.2" x2="538.3" y2="213.2" stroke="#2b2b3b" stroke-width="0.9"/>
<rect x="527.8" y="218.2" width="18" height="63.8" fill="#9794c6" stroke="#2b2b3b" stroke-width="0.9"/>
<line x1="554.8" y1="232.6" x2="554.8" y2="235" stroke="#2b2b3b" stroke-width="0.9"/>
<line x1="553.3" y1="232.6" x2="556.3" y2="232.6" stroke="#2b2b3b" stroke-width="0.9"/>
<rect x="545.8" y="235" width="18" height="47" fill="#3852a4" stroke="#2b2b3b" stroke-width="0.9"/>
<text x="543.8" y="296.2" font-size="11.2" text-anchor="middle">CIV</text>
<rect x="438.3" y="198.1" width="5.2" height="5.2" fill="#a4a2cc" stroke="#333" stroke-width="0.8"/>
<rect x="438.3" y="208.5" width="5.2" height="5.2" fill="#323e92" stroke="#333" stroke-width="0.8"/>
<text x="447.6" y="204.2" font-size="11.3" font-style="italic">Taco1<tspan font-size="8" dy="-4.2">wt/wt</tspan></text>
<text x="447.6" y="214.6" font-size="11.3" font-style="italic">Taco1<tspan font-size="8" dy="-4.2">mut/mut</tspan></text>
<path d="M533.6,203.6V198.6H553V203.6" fill="none" stroke="#444" stroke-width="0.9"/>
<polygon points="543.6,189.6 544.28,191.37 546.17,191.47 544.69,192.66 545.19,194.48 543.6,193.45 542.01,194.48 542.51,192.66 541.03,191.47 542.92,191.37" fill="#111"/>
<text transform="translate(379.4,241) rotate(-90)" font-size="11.5" text-anchor="middle">Respiration rate</text>
<text transform="translate(393.4,238) rotate(-90)" font-size="11.5" text-anchor="middle">(nmol O min<tspan font-size="8" dy="-4">−1</tspan><tspan dy="4"> mg</tspan><tspan font-size="8" dy="-4">−1</tspan><tspan dy="4"> protein)</tspan></text>
<text transform="translate(56.2,327) scale(1,1.12)" font-size="15" font-weight="bold" fill="#000" style="stroke:#000">c</text>
<line x1="104.5" y1="347.5" x2="104.5" y2="464.4" stroke="#6a6a6a" stroke-width="1"/>
<line x1="101" y1="348.5" x2="104.5" y2="348.5" stroke="#6a6a6a" stroke-width="1"/>
<text x="99.4" y="351.92" font-size="11.2" text-anchor="end">16</text>
<line x1="101" y1="376.5" x2="104.5" y2="376.5" stroke="#6a6a6a" stroke-width="1"/>
<text x="99.4" y="380.12" font-size="11.2" text-anchor="end">12</text>
<line x1="101" y1="404.5" x2="104.5" y2="404.5" stroke="#6a6a6a" stroke-width="1"/>
<text x="99.4" y="408.32" font-size="11.2" text-anchor="end">8</text>
<line x1="101" y1="433.5" x2="104.5" y2="433.5" stroke="#6a6a6a" stroke-width="1"/>
<text x="99.4" y="436.52" font-size="11.2" text-anchor="end">4</text>
<line x1="101" y1="461.5" x2="104.5" y2="461.5" stroke="#6a6a6a" stroke-width="1"/>
<text x="99.4" y="464.72" font-size="11.2" text-anchor="end">0</text>
<line x1="103.5" y1="461.5" x2="206.9" y2="461.5" stroke="#6a6a6a" stroke-width="1"/>
<line x1="155.5" y1="461.5" x2="155.5" y2="464.6" stroke="#6a6a6a" stroke-width="1"/>
<line x1="206.5" y1="461.5" x2="206.5" y2="464.6" stroke="#6a6a6a" stroke-width="1"/>
<rect x="110.4" y="355.6" width="37.6" height="106" fill="#fff" stroke="#222" stroke-width="1"/>
<rect x="110.4" y="369" width="37.6" height="92.6" fill="#000" stroke="#000" stroke-width="1"/>
<rect x="161.4" y="355.6" width="38" height="106" fill="#fff" stroke="#222" stroke-width="1"/>
<rect x="161.4" y="419" width="38" height="42.6" fill="#000" stroke="#000" stroke-width="1"/>
<path d="M137.4,352V344.4H173.4V352" fill="none" stroke="#444" stroke-width="0.9"/>
<polygon points="157.4,335 158.08,336.77 159.97,336.87 158.49,338.06 158.99,339.88 157.4,338.85 155.81,339.88 156.31,338.06 154.83,336.87 156.72,336.77" fill="#111"/>
<rect x="180.8" y="330.8" width="5" height="4.8" fill="#fff" stroke="#222" stroke-width="0.9"/>
<text x="190.6" y="337.2" font-size="11.2">No</text>
<rect x="180.4" y="343" width="5.4" height="5" fill="#000" stroke="#000" stroke-width="0.9"/>
<text x="190.8" y="349.4" font-size="11.2">Yes</text>
<text transform="translate(65,404) rotate(-90)" font-size="11.5" text-anchor="middle">Number of</text>
<text transform="translate(79,404) rotate(-90)" font-size="11.5" text-anchor="middle">times box reached</text>
<text x="102.4" y="478" font-size="11.2" font-style="italic">Taco1<tspan font-size="8" dy="-4.2">wt/wt</tspan></text>
<text x="155.4" y="478" font-size="11.2" font-style="italic">Taco1<tspan font-size="8" dy="-4.2">mut/mut</tspan></text>
<text transform="translate(229,326.8) scale(1,1.12)" font-size="15" font-weight="bold" fill="#000" style="stroke:#000">d</text>
<line x1="278.5" y1="348.5" x2="278.5" y2="464.8" stroke="#383838" stroke-width="1"/>
<line x1="275" y1="349.5" x2="278.5" y2="349.5" stroke="#383838" stroke-width="1"/>
<text x="273.4" y="352.12" font-size="11.2" text-anchor="end">40</text>
<line x1="275" y1="377.5" x2="278.5" y2="377.5" stroke="#383838" stroke-width="1"/>
<text x="273.4" y="380.72" font-size="11.2" text-anchor="end">30</text>
<line x1="275" y1="405.5" x2="278.5" y2="405.5" stroke="#383838" stroke-width="1"/>
<text x="273.4" y="409.32" font-size="11.2" text-anchor="end">20</text>
<line x1="275" y1="433.5" x2="278.5" y2="433.5" stroke="#383838" stroke-width="1"/>
<text x="273.4" y="437.92" font-size="11.2" text-anchor="end">10</text>
<line x1="275" y1="462.5" x2="278.5" y2="462.5" stroke="#383838" stroke-width="1"/>
<text x="273.4" y="466.42" font-size="11.2" text-anchor="end">0</text>
<line x1="277.5" y1="462.5" x2="381.5" y2="462.5" stroke="#383838" stroke-width="1"/>
<line x1="329.5" y1="462.5" x2="329.5" y2="465" stroke="#383838" stroke-width="1"/>
<line x1="381.5" y1="462.5" x2="381.5" y2="465" stroke="#383838" stroke-width="1"/>
<line x1="303.2" y1="349.2" x2="303.2" y2="349.6" stroke="#2b2b3b" stroke-width="0.9"/>
<line x1="301.2" y1="349.2" x2="305.2" y2="349.2" stroke="#2b2b3b" stroke-width="0.9"/>
<rect x="284.4" y="349.6" width="37.6" height="112.4" fill="#9794c6" stroke="#2b2b3b" stroke-width="0.9"/>
<line x1="354.2" y1="372.6" x2="354.2" y2="375.4" stroke="#2b2b3b" stroke-width="0.9"/>
<line x1="352.2" y1="372.6" x2="356.2" y2="372.6" stroke="#2b2b3b" stroke-width="0.9"/>
<rect x="335.4" y="375.4" width="37.6" height="86.6" fill="#3852a4" stroke="#2b2b3b" stroke-width="0.9"/>
<path d="M303.4,342V334.6H339.6V342" fill="none" stroke="#444" stroke-width="0.9"/>
<polygon points="323.6,326 324.28,327.77 326.17,327.87 324.69,329.06 325.19,330.88 323.6,329.85 322.01,330.88 322.51,329.06 321.03,327.87 322.92,327.77" fill="#111"/>
<text transform="translate(238,406.5) rotate(-90)" font-size="11.5" text-anchor="middle">Distance</text>
<text transform="translate(252,406.7) rotate(-90)" font-size="11.5" text-anchor="middle">travelled (cm)</text>
<text x="277.4" y="478" font-size="11.2" font-style="italic">Taco1<tspan font-size="8" dy="-4.2">wt/wt</tspan></text>
<text x="330.2" y="478" font-size="11.2" font-style="italic">Taco1<tspan font-size="8" dy="-4.2">mut/mut</tspan></text>
<text transform="translate(402.2,327) scale(1,1.12)" font-size="15" font-weight="bold" fill="#000" style="stroke:#000">e</text>
<line x1="447.5" y1="338.5" x2="447.5" y2="464.7" stroke="#383838" stroke-width="1"/>
<line x1="444.5" y1="339.5" x2="447.5" y2="339.5" stroke="#383838" stroke-width="1"/>
<text x="441.4" y="343.32" font-size="11.2" text-anchor="end">300</text>
<line x1="444.5" y1="379.5" x2="447.5" y2="379.5" stroke="#383838" stroke-width="1"/>
<text x="441.4" y="384.12" font-size="11.2" text-anchor="end">200</text>
<line x1="444.5" y1="420.5" x2="447.5" y2="420.5" stroke="#383838" stroke-width="1"/>
<text x="441.4" y="424.72" font-size="11.2" text-anchor="end">100</text>
<line x1="444.5" y1="461.5" x2="447.5" y2="461.5" stroke="#383838" stroke-width="1"/>
<text x="441.4" y="465.62" font-size="11.2" text-anchor="end">0</text>
<line x1="447" y1="461.5" x2="624.5" y2="461.5" stroke="#383838" stroke-width="1"/>
<line x1="491.5" y1="461.5" x2="491.5" y2="464.9" stroke="#383838" stroke-width="1"/>
<line x1="536.5" y1="461.5" x2="536.5" y2="464.9" stroke="#383838" stroke-width="1"/>
<line x1="580.5" y1="461.5" x2="580.5" y2="464.9" stroke="#383838" stroke-width="1"/>
<line x1="624.5" y1="461.5" x2="624.5" y2="464.9" stroke="#383838" stroke-width="1"/>
<polyline points="469.4,420 513.6,402 558,398 602,402" fill="none" stroke="#d8646c" stroke-width="1.1"/>
<line x1="469.4" y1="417" x2="469.4" y2="420" stroke="#d8646c" stroke-width="1"/>
<line x1="467.4" y1="417" x2="471.4" y2="417" stroke="#d8646c" stroke-width="1"/>
<circle cx="469.4" cy="420" r="1.3" fill="#d8646c"/>
<line x1="513.6" y1="397.4" x2="513.6" y2="402" stroke="#d8646c" stroke-width="1"/>
<line x1="511.6" y1="397.4" x2="515.6" y2="397.4" stroke="#d8646c" stroke-width="1"/>
<circle cx="513.6" cy="402" r="1.3" fill="#d8646c"/>
<line x1="558" y1="394.4" x2="558" y2="398" stroke="#d8646c" stroke-width="1"/>
<line x1="556" y1="394.4" x2="560" y2="394.4" stroke="#d8646c" stroke-width="1"/>
<circle cx="558" cy="398" r="1.3" fill="#d8646c"/>
<line x1="602" y1="398.4" x2="602" y2="402" stroke="#d8646c" stroke-width="1"/>
<line x1="600" y1="398.4" x2="604" y2="398.4" stroke="#d8646c" stroke-width="1"/>
<circle cx="602" cy="402" r="1.3" fill="#d8646c"/>
<polyline points="469.4,412.5 513.6,392.4 558,370.2 602,367.4" fill="none" stroke="#111" stroke-width="1.1"/>
<line x1="469.4" y1="409.4" x2="469.4" y2="412.5" stroke="#111" stroke-width="1"/>
<line x1="467.4" y1="409.4" x2="471.4" y2="409.4" stroke="#111" stroke-width="1"/>
<circle cx="469.4" cy="412.5" r="1.3" fill="#111"/>
<line x1="513.6" y1="386.6" x2="513.6" y2="392.4" stroke="#111" stroke-width="1"/>
<line x1="511.6" y1="386.6" x2="515.6" y2="386.6" stroke="#111" stroke-width="1"/>
<circle cx="513.6" cy="392.4" r="1.3" fill="#111"/>
<line x1="558" y1="365.4" x2="558" y2="370.2" stroke="#111" stroke-width="1"/>
<line x1="556" y1="365.4" x2="560" y2="365.4" stroke="#111" stroke-width="1"/>
<circle cx="558" cy="370.2" r="1.3" fill="#111"/>
<line x1="602" y1="360.4" x2="602" y2="367.4" stroke="#111" stroke-width="1"/>
<line x1="600" y1="360.4" x2="604" y2="360.4" stroke="#111" stroke-width="1"/>
<circle cx="602" cy="367.4" r="1.3" fill="#111"/>
<text x="469.4" y="476.4" font-size="11.2" text-anchor="middle">Day 1</text>
<text x="513.6" y="476.4" font-size="11.2" text-anchor="middle">Day 2</text>
<text x="558" y="476.4" font-size="11.2" text-anchor="middle">Day 3</text>
<text x="602" y="476.4" font-size="11.2" text-anchor="middle">Day 4</text>
<line x1="454.8" y1="345.6" x2="461" y2="345.6" stroke="#111" stroke-width="1.1"/>
<path d="M456.2,345.6L457.9,344.4L459.6,345.6L457.9,346.8Z" fill="#111"/>
<text x="465.6" y="347.8" font-size="11.3" font-style="italic">Taco1<tspan font-size="8" dy="-4.2">wt/wt</tspan></text>
<line x1="454.4" y1="358.4" x2="461.2" y2="358.4" stroke="#d8646c" stroke-width="1.2"/>
<path d="M455.4,358.4L457.9,356.8L460.4,358.4L457.9,360Z" fill="#d8646c"/>
<text x="465.6" y="361.8" font-size="11.3" font-style="italic">Taco1<tspan font-size="8" dy="-4.2">mut/mut</tspan></text>
<text transform="translate(409.4,401.5) rotate(-90)" font-size="11.5" text-anchor="middle">Average time (s)</text>
<text transform="translate(0,513) scale(1,1.12)" font-size="15" font-weight="bold" fill="#000" style="stroke:#000">f</text>
<line x1="55.5" y1="526.5" x2="55.5" y2="634.4" stroke="#383838" stroke-width="1"/>
<line x1="52" y1="527.5" x2="55.5" y2="527.5" stroke="#383838" stroke-width="1"/>
<text x="50.4" y="530.92" font-size="11.2" text-anchor="end">300</text>
<line x1="52" y1="561.5" x2="55.5" y2="561.5" stroke="#383838" stroke-width="1"/>
<text x="50.4" y="565.72" font-size="11.2" text-anchor="end">200</text>
<line x1="52" y1="596.5" x2="55.5" y2="596.5" stroke="#383838" stroke-width="1"/>
<text x="50.4" y="600.52" font-size="11.2" text-anchor="end">100</text>
<line x1="52" y1="631.5" x2="55.5" y2="631.5" stroke="#383838" stroke-width="1"/>
<text x="50.4" y="635.52" font-size="11.2" text-anchor="end">0</text>
<line x1="54.5" y1="631.5" x2="158.1" y2="631.5" stroke="#383838" stroke-width="1"/>
<line x1="105.5" y1="631.5" x2="105.5" y2="634.6" stroke="#383838" stroke-width="1"/>
<line x1="157.5" y1="631.5" x2="157.5" y2="634.6" stroke="#383838" stroke-width="1"/>
<line x1="80.4" y1="546.6" x2="80.4" y2="553.6" stroke="#2b2b3b" stroke-width="0.9"/>
<line x1="78.4" y1="546.6" x2="82.4" y2="546.6" stroke="#2b2b3b" stroke-width="0.9"/>
<rect x="61.4" y="553.6" width="38" height="78" fill="#9794c6" stroke="#2b2b3b" stroke-width="0.9"/>
<line x1="132.5" y1="581.2" x2="132.5" y2="585.2" stroke="#2b2b3b" stroke-width="0.9"/>
<line x1="130.5" y1="581.2" x2="134.5" y2="581.2" stroke="#2b2b3b" stroke-width="0.9"/>
<rect x="113.4" y="585.2" width="38.2" height="46.4" fill="#3852a4" stroke="#2b2b3b" stroke-width="0.9"/>
<path d="M84.6,529.4V522H120.6V529.4" fill="none" stroke="#444" stroke-width="0.9"/>
<polygon points="103,511.2 103.68,512.97 105.57,513.07 104.09,514.26 104.59,516.08 103,515.05 101.41,516.08 101.91,514.26 100.43,513.07 102.32,512.97" fill="#111"/>
<text x="52.8" y="650" font-size="11.2" font-style="italic">Taco1<tspan font-size="8" dy="-4.2">wt/wt</tspan></text>
<text x="105.6" y="650" font-size="11.2" font-style="italic">Taco1<tspan font-size="8" dy="-4.2">mut/mut</tspan></text>
<text transform="translate(9.6,580) rotate(-90)" font-size="11.5" text-anchor="middle">Average</text>
<text transform="translate(23.8,579.4) rotate(-90)" font-size="11.5" text-anchor="middle">time at day 4 (s)</text>
<text transform="translate(180.2,513) scale(1,1.12)" font-size="15" font-weight="bold" fill="#000" style="stroke:#000">g</text>
<line x1="228.5" y1="526.9" x2="228.5" y2="634.4" stroke="#383838" stroke-width="1"/>
<line x1="225" y1="527.5" x2="228.5" y2="527.5" stroke="#383838" stroke-width="1"/>
<text x="223.4" y="531.32" font-size="11.2" text-anchor="end">60</text>
<line x1="225" y1="562.5" x2="228.5" y2="562.5" stroke="#383838" stroke-width="1"/>
<text x="223.4" y="565.92" font-size="11.2" text-anchor="end">40</text>
<line x1="225" y1="596.5" x2="228.5" y2="596.5" stroke="#383838" stroke-width="1"/>
<text x="223.4" y="600.52" font-size="11.2" text-anchor="end">20</text>
<line x1="225" y1="631.5" x2="228.5" y2="631.5" stroke="#383838" stroke-width="1"/>
<text x="223.4" y="635.32" font-size="11.2" text-anchor="end">0</text>
<line x1="227.5" y1="631.5" x2="324.5" y2="631.5" stroke="#383838" stroke-width="1"/>
<line x1="276.5" y1="631.5" x2="276.5" y2="634.6" stroke="#383838" stroke-width="1"/>
<line x1="324.5" y1="631.5" x2="324.5" y2="634.6" stroke="#383838" stroke-width="1"/>
<line x1="252.4" y1="542.4" x2="252.4" y2="547" stroke="#2b2b3b" stroke-width="0.9"/>
<line x1="250.4" y1="542.4" x2="254.4" y2="542.4" stroke="#2b2b3b" stroke-width="0.9"/>
<rect x="234.4" y="547" width="36" height="84.6" fill="#9794c6" stroke="#2b2b3b" stroke-width="0.9"/>
<line x1="300.2" y1="602.4" x2="300.2" y2="605.6" stroke="#2b2b3b" stroke-width="0.9"/>
<line x1="298.2" y1="602.4" x2="302.2" y2="602.4" stroke="#2b2b3b" stroke-width="0.9"/>
<rect x="282.4" y="605.6" width="35.6" height="26" fill="#3852a4" stroke="#2b2b3b" stroke-width="0.9"/>
<path d="M264,530V523H300.4V530" fill="none" stroke="#444" stroke-width="0.9"/>
<polygon points="282,514 282.68,515.77 284.57,515.87 283.09,517.06 283.59,518.88 282,517.85 280.41,518.88 280.91,517.06 279.43,515.87 281.32,515.77" fill="#111"/>
<text x="220.8" y="650" font-size="11.2" font-style="italic">Taco1<tspan font-size="8" dy="-4.2">wt/wt</tspan></text>
<text x="274.2" y="650" font-size="11.2" font-style="italic">Taco1<tspan font-size="8" dy="-4.2">mut/mut</tspan></text>
<text transform="translate(189.4,580) rotate(-90)" font-size="11.5" text-anchor="middle">Average</text>
<text transform="translate(203.4,579.6) rotate(-90)" font-size="11.5" text-anchor="middle">time tracking (s)</text>
<text transform="translate(347.4,512.4) scale(1,1.12)" font-size="15" font-weight="bold" fill="#000" style="stroke:#000">h</text>
<line x1="398.5" y1="524.5" x2="398.5" y2="634.4" stroke="#383838" stroke-width="1"/>
<line x1="395.4" y1="525.5" x2="398.5" y2="525.5" stroke="#383838" stroke-width="1"/>
<text x="392.3" y="529.52" font-size="11.2" text-anchor="end">30</text>
<line x1="395.4" y1="560.5" x2="398.5" y2="560.5" stroke="#383838" stroke-width="1"/>
<text x="392.3" y="564.92" font-size="11.2" text-anchor="end">20</text>
<line x1="395.4" y1="596.5" x2="398.5" y2="596.5" stroke="#383838" stroke-width="1"/>
<text x="392.3" y="600.52" font-size="11.2" text-anchor="end">10</text>
<line x1="395.4" y1="631.5" x2="398.5" y2="631.5" stroke="#383838" stroke-width="1"/>
<text x="392.3" y="635.92" font-size="11.2" text-anchor="end">0</text>
<line x1="397.9" y1="631.5" x2="496.9" y2="631.5" stroke="#383838" stroke-width="1"/>
<line x1="449.5" y1="631.5" x2="449.5" y2="634.6" stroke="#383838" stroke-width="1"/>
<line x1="496.5" y1="631.5" x2="496.5" y2="634.6" stroke="#383838" stroke-width="1"/>
<line x1="423.4" y1="540.6" x2="423.4" y2="545.4" stroke="#2b2b3b" stroke-width="0.9"/>
<line x1="421.4" y1="540.6" x2="425.4" y2="540.6" stroke="#2b2b3b" stroke-width="0.9"/>
<rect x="405.4" y="545.4" width="36" height="86.2" fill="#9794c6" stroke="#2b2b3b" stroke-width="0.9"/>
<line x1="472.9" y1="593.4" x2="472.9" y2="597.2" stroke="#2b2b3b" stroke-width="0.9"/>
<line x1="470.9" y1="593.4" x2="474.9" y2="593.4" stroke="#2b2b3b" stroke-width="0.9"/>
<rect x="455.2" y="597.2" width="35.4" height="34.4" fill="#3852a4" stroke="#2b2b3b" stroke-width="0.9"/>
<path d="M428.6,530V524H466V530" fill="none" stroke="#444" stroke-width="0.9"/>
<polygon points="449.4,512.2 450.08,513.97 451.97,514.07 450.49,515.26 450.99,517.08 449.4,516.05 447.81,517.08 448.31,515.26 446.83,514.07 448.72,513.97" fill="#111"/>
<text x="394.8" y="650" font-size="11.2" font-style="italic">Taco1<tspan font-size="8" dy="-4.2">wt/wt</tspan></text>
<text x="447.8" y="650" font-size="11.2" font-style="italic">Taco1<tspan font-size="8" dy="-4.2">mut/mut</tspan></text>
<text transform="translate(357.4,581.5) rotate(-90)" font-size="11.5" text-anchor="middle">Average</text>
<text transform="translate(371.4,581) rotate(-90)" font-size="11.5" text-anchor="middle">number of tracks</text>
<text transform="translate(520.2,512.4) scale(1,1.12)" font-size="15" font-weight="bold" fill="#000" style="stroke:#000">i</text>
<line x1="575.5" y1="527.1" x2="575.5" y2="632.7" stroke="#5a5a5a" stroke-width="1"/>
<line x1="572.5" y1="527.5" x2="575.5" y2="527.5" stroke="#5a5a5a" stroke-width="1"/>
<text x="570.2" y="531.52" font-size="11.2" text-anchor="end">200</text>
<line x1="572.5" y1="579.5" x2="575.5" y2="579.5" stroke="#5a5a5a" stroke-width="1"/>
<text x="570.2" y="583.32" font-size="11.2" text-anchor="end">100</text>
<line x1="572.5" y1="631.5" x2="575.5" y2="631.5" stroke="#5a5a5a" stroke-width="1"/>
<text x="570.2" y="635.52" font-size="11.2" text-anchor="end">0</text>
<line x1="575" y1="632.5" x2="678.9" y2="632.5" stroke="#5a5a5a" stroke-width="1"/>
<line x1="628.5" y1="632.5" x2="628.5" y2="635.2" stroke="#5a5a5a" stroke-width="1"/>
<line x1="678.5" y1="632.5" x2="678.5" y2="635.2" stroke="#5a5a5a" stroke-width="1"/>
<line x1="600.4" y1="552.4" x2="600.4" y2="557.6" stroke="#2b2b3b" stroke-width="0.9"/>
<line x1="598.4" y1="552.4" x2="602.4" y2="552.4" stroke="#2b2b3b" stroke-width="0.9"/>
<rect x="581.4" y="557.6" width="38" height="74.6" fill="#9794c6" stroke="#2b2b3b" stroke-width="0.9"/>
<line x1="653.3" y1="544" x2="653.3" y2="547.6" stroke="#2b2b3b" stroke-width="0.9"/>
<line x1="651.3" y1="544" x2="655.3" y2="544" stroke="#2b2b3b" stroke-width="0.9"/>
<rect x="634.2" y="547.6" width="38.2" height="84.6" fill="#3852a4" stroke="#2b2b3b" stroke-width="0.9"/>
<text x="571.8" y="650" font-size="11.2" font-style="italic">Taco1<tspan font-size="8" dy="-4.2">wt/wt</tspan></text>
<text x="624.8" y="650" font-size="11.2" font-style="italic">Taco1<tspan font-size="8" dy="-4.2">mut/mut</tspan></text>
<text transform="translate(530.4,579) rotate(-90)" font-size="11.5" text-anchor="middle">Total time</text>
<text transform="translate(544.4,579) rotate(-90)" font-size="11.5" text-anchor="middle">spent in light (s)</text>
<text transform="translate(101.4,684.8) scale(1,1.12)" font-size="15" font-weight="bold" fill="#000" style="stroke:#000">j</text>
<text x="143.4" y="698" font-size="11.2" font-style="italic">Taco1<tspan font-size="8" dy="-4.2">wt/wt</tspan></text>
<text x="204.2" y="698" font-size="11.2" font-style="italic">Taco1<tspan font-size="8" dy="-4.2">mut/mut</tspan></text>
<text x="124" y="714.3" font-size="11.1" text-anchor="end">GCL</text>
<line x1="126.2" y1="712.5" x2="133" y2="712.5" stroke="#111" stroke-width="1.1"/>
<path d="M131.2,710.4L137.3,712.5L131.2,714.6Z" fill="#111"/>
<text x="124" y="731" font-size="11.1" text-anchor="end">IPL</text>
<line x1="126.2" y1="728.9" x2="133" y2="728.9" stroke="#111" stroke-width="1.1"/>
<path d="M131.2,726.8L137.3,728.9L131.2,731Z" fill="#111"/>
<text x="124" y="752.6" font-size="11.1" text-anchor="end">INL</text>
<line x1="126.2" y1="751.7" x2="133" y2="751.7" stroke="#111" stroke-width="1.1"/>
<path d="M131.2,749.6L137.3,751.7L131.2,753.8Z" fill="#111"/>
<text x="124" y="771.8" font-size="11.1" text-anchor="end">OPL</text>
<line x1="126.2" y1="768" x2="133" y2="768" stroke="#111" stroke-width="1.1"/>
<path d="M131.2,765.9L137.3,768L131.2,770.1Z" fill="#111"/>
<text x="124" y="788.6" font-size="11.1" text-anchor="end">ONL</text>
<line x1="126.2" y1="786.4" x2="133" y2="786.4" stroke="#111" stroke-width="1.1"/>
<path d="M131.2,784.3L137.3,786.4L131.2,788.5Z" fill="#111"/>
<g clip-path="url(#cJ1)">
<rect x="138" y="703.4" width="57.6" height="108.6" fill="#dcdff0"/>
<rect x="134" y="703.4" width="65.6" height="108.6" fill="url(#jwt)" filter="url(#fWave)"/>
<rect x="138" y="703.4" width="57.6" height="108.6" fill="#000" filter="url(#fJwt)" opacity="0.18"/>
<ellipse cx="150.76" cy="719.22" rx="1.1" ry="0.7" fill="#8a90c4" opacity="0.6"/>
<ellipse cx="153.4" cy="719.52" rx="1.1" ry="0.7" fill="#8a90c4" opacity="0.6"/>
<ellipse cx="158.51" cy="716.83" rx="1.1" ry="0.7" fill="#8a90c4" opacity="0.6"/>
<ellipse cx="146.26" cy="720.69" rx="1.1" ry="0.7" fill="#8a90c4" opacity="0.6"/>
<ellipse cx="151.19" cy="717.67" rx="1.1" ry="0.7" fill="#8a90c4" opacity="0.6"/>
<ellipse cx="165.91" cy="718.85" rx="1.1" ry="0.7" fill="#8a90c4" opacity="0.6"/>
<path d="M150,746 L150.5,760" stroke="#a8a4d8" stroke-width="1.6" opacity="0.6"/>
</g>
<rect x="138" y="703.4" width="57.6" height="108.6" fill="none" stroke="#1e1e24" stroke-width="1.2"/>
<g clip-path="url(#cJ2)">
<rect x="205.4" y="703.4" width="57.6" height="108.6" fill="#e0e4f0"/>
<rect x="201.4" y="703.4" width="65.6" height="108.6" fill="url(#jmut)" filter="url(#fWave2)"/>
<rect x="205.4" y="703.4" width="57.6" height="108.6" fill="#fff" filter="url(#fJmut)" opacity="0.55"/>
</g>
<rect x="205.4" y="703.4" width="57.6" height="108.6" fill="none" stroke="#1e1e24" stroke-width="1.2"/>
<text transform="translate(300,686) scale(1,1.12)" font-size="15" font-weight="bold" fill="#000" style="stroke:#000">k</text>
<line x1="336.5" y1="693.5" x2="336.5" y2="810.8" stroke="#585858" stroke-width="1"/>
<line x1="333.4" y1="694.5" x2="336.5" y2="694.5" stroke="#585858" stroke-width="1"/>
<text x="329.95" y="698.82" font-size="11.2" text-anchor="end">20</text>
<line x1="333.4" y1="727.5" x2="336.5" y2="727.5" stroke="#585858" stroke-width="1"/>
<text x="329.95" y="731.82" font-size="11.2" text-anchor="end">15</text>
<line x1="333.4" y1="759.5" x2="336.5" y2="759.5" stroke="#585858" stroke-width="1"/>
<text x="329.95" y="763.92" font-size="11.2" text-anchor="end">10</text>
<line x1="333.4" y1="791.5" x2="336.5" y2="791.5" stroke="#585858" stroke-width="1"/>
<text x="329.95" y="796.12" font-size="11.2" text-anchor="end">0</text>
<line x1="335.9" y1="808.5" x2="530.9" y2="808.5" stroke="#484848" stroke-width="1"/>
<line x1="368.5" y1="808.5" x2="368.5" y2="809.8" stroke="#484848" stroke-width="1"/>
<line x1="400.5" y1="808.5" x2="400.5" y2="809.8" stroke="#484848" stroke-width="1"/>
<line x1="433.5" y1="808.5" x2="433.5" y2="809.8" stroke="#484848" stroke-width="1"/>
<line x1="465.5" y1="808.5" x2="465.5" y2="809.8" stroke="#484848" stroke-width="1"/>
<line x1="498.5" y1="808.5" x2="498.5" y2="809.8" stroke="#484848" stroke-width="1"/>
<line x1="345.9" y1="759.6" x2="345.9" y2="761" stroke="#2b2b3b" stroke-width="0.9"/>
<line x1="344.4" y1="759.6" x2="347.4" y2="759.6" stroke="#2b2b3b" stroke-width="0.9"/>
<rect x="339.4" y="761" width="13" height="47" fill="#9794c6" stroke="#2b2b3b" stroke-width="0.9"/>
<rect x="352.4" y="756.6" width="13.2" height="51.4" fill="#3852a4" stroke="#2b2b3b" stroke-width="0.9"/>
<line x1="377.9" y1="704.2" x2="377.9" y2="705.4" stroke="#2b2b3b" stroke-width="0.9"/>
<line x1="376.4" y1="704.2" x2="379.4" y2="704.2" stroke="#2b2b3b" stroke-width="0.9"/>
<rect x="371.4" y="705.4" width="13" height="102.6" fill="#9794c6" stroke="#2b2b3b" stroke-width="0.9"/>
<rect x="384.4" y="708" width="13.2" height="100" fill="#3852a4" stroke="#2b2b3b" stroke-width="0.9"/>
<line x1="410.5" y1="784" x2="410.5" y2="784.6" stroke="#2b2b3b" stroke-width="0.9"/>
<line x1="409" y1="784" x2="412" y2="784" stroke="#2b2b3b" stroke-width="0.9"/>
<rect x="404" y="784.6" width="13" height="23.4" fill="#9794c6" stroke="#2b2b3b" stroke-width="0.9"/>
<rect x="417" y="790.6" width="13.2" height="17.4" fill="#3852a4" stroke="#2b2b3b" stroke-width="0.9"/>
<line x1="442.9" y1="746.4" x2="442.9" y2="747.4" stroke="#2b2b3b" stroke-width="0.9"/>
<line x1="441.4" y1="746.4" x2="444.4" y2="746.4" stroke="#2b2b3b" stroke-width="0.9"/>
<rect x="436.4" y="747.4" width="13" height="60.6" fill="#9794c6" stroke="#2b2b3b" stroke-width="0.9"/>
<rect x="449.4" y="758.6" width="13.2" height="49.4" fill="#3852a4" stroke="#2b2b3b" stroke-width="0.9"/>
<line x1="474.9" y1="741.8" x2="474.9" y2="744.4" stroke="#2b2b3b" stroke-width="0.9"/>
<line x1="473.4" y1="741.8" x2="476.4" y2="741.8" stroke="#2b2b3b" stroke-width="0.9"/>
<rect x="468.4" y="744.4" width="13" height="63.6" fill="#9794c6" stroke="#2b2b3b" stroke-width="0.9"/>
<rect x="481.4" y="750" width="13.2" height="58" fill="#3852a4" stroke="#2b2b3b" stroke-width="0.9"/>
<line x1="507.9" y1="793" x2="507.9" y2="793.6" stroke="#2b2b3b" stroke-width="0.9"/>
<line x1="506.4" y1="793" x2="509.4" y2="793" stroke="#2b2b3b" stroke-width="0.9"/>
<rect x="501.4" y="793.6" width="13" height="14.4" fill="#9794c6" stroke="#2b2b3b" stroke-width="0.9"/>
<rect x="514.4" y="788" width="13.2" height="20" fill="#3852a4" stroke="#2b2b3b" stroke-width="0.9"/>
<path d="M403,724V717H425.6V724" fill="none" stroke="#444" stroke-width="0.9"/>
<path d="M438.4,724V717H460.4V724" fill="none" stroke="#444" stroke-width="0.9"/>
<polygon points="414,705.6 414.68,707.37 416.57,707.47 415.09,708.66 415.59,710.48 414,709.45 412.41,710.48 412.91,708.66 411.43,707.47 413.32,707.37" fill="#111"/>
<polygon points="449,705.6 449.68,707.37 451.57,707.47 450.09,708.66 450.59,710.48 449,709.45 447.41,710.48 447.91,708.66 446.43,707.47 448.32,707.37" fill="#111"/>
<rect x="492.2" y="714.3" width="5.3" height="5.3" fill="#a4a2cc" stroke="#333" stroke-width="0.8"/>
<rect x="492.2" y="727.5" width="5.3" height="5.1" fill="#323e92" stroke="#333" stroke-width="0.8"/>
<text x="502.4" y="719.2" font-size="11.3" font-style="italic">Taco1<tspan font-size="8" dy="-4.2">wt/wt</tspan></text>
<text x="502.4" y="733.2" font-size="11.3" font-style="italic">Taco1<tspan font-size="8" dy="-4.2">mut/mut</tspan></text>
<text transform="translate(309.4,745) rotate(-90)" font-size="11.5" text-anchor="middle">% of total µm</text>
<text transform="translate(355,815.6) rotate(-45)" font-size="11.2" text-anchor="end">Rods and cones</text>
<text transform="translate(392,815.6) rotate(-45)" font-size="11.2" text-anchor="end">Outer nuclear layer</text>
<text transform="translate(427,816.6) rotate(-45)" font-size="11.2" text-anchor="end">Outer plexiform layer</text>
<text transform="translate(454.5,816.1) rotate(-45)" font-size="11.2" text-anchor="end">Inner nuclear layer</text>
<text transform="translate(489.9,816.6) rotate(-45)" font-size="11.2" text-anchor="end">Inner plexiform layer</text>
<text transform="translate(519,816.6) rotate(-45)" font-size="11.2" text-anchor="end">Ganglion cell layer</text>
<text transform="translate(78.2,921.2) scale(1,1.12)" font-size="15" font-weight="bold" fill="#000" style="stroke:#000">l</text>
<text x="113.4" y="934" font-size="11.2" font-style="italic">Taco1<tspan font-size="8" dy="-4.2">wt/wt</tspan></text>
<text x="228.8" y="934" font-size="11.2" font-style="italic">Taco1<tspan font-size="8" dy="-4.2">mut/mut</tspan></text>
<g clip-path="url(#cL1)">
<rect x="77.6" y="939.6" width="119" height="100" fill="url(#lwt)"/>
<rect x="77.6" y="939.6" width="119" height="100" fill="#000" filter="url(#fMottleL)" opacity="0.14"/>
<rect x="77.6" y="939.6" width="119" height="100" fill="#000" filter="url(#fGrain)" opacity="0.08"/>
<g filter="url(#fSoft)">
<ellipse cx="96" cy="960" rx="1.83" ry="1.28" transform="rotate(172.89 96 960)" fill="#3c4888" opacity="0.6"/>
<ellipse cx="118" cy="959" rx="1.55" ry="1.26" transform="rotate(126.76 118 959)" fill="#3c4888" opacity="0.6"/>
<ellipse cx="85" cy="953" rx="1.99" ry="0.87" transform="rotate(4.85 85 953)" fill="#3c4888" opacity="0.6"/>
<ellipse cx="84" cy="968" rx="1.66" ry="1.25" transform="rotate(45.43 84 968)" fill="#3c4888" opacity="0.6"/>
<ellipse cx="107" cy="970" rx="1.8" ry="0.99" transform="rotate(152.34 107 970)" fill="#3c4888" opacity="0.6"/>
<ellipse cx="116" cy="987" rx="2.33" ry="1.04" transform="rotate(179.72 116 987)" fill="#3c4888" opacity="0.6"/>
<ellipse cx="127" cy="992" rx="1.27" ry="1.29" transform="rotate(157.56 127 992)" fill="#3c4888" opacity="0.6"/>
<ellipse cx="109" cy="1002" rx="1.38" ry="1.22" transform="rotate(100.6 109 1002)" fill="#3c4888" opacity="0.6"/>
<ellipse cx="97" cy="1013" rx="2.35" ry="0.93" transform="rotate(97.19 97 1013)" fill="#3c4888" opacity="0.6"/>
<ellipse cx="126" cy="1019" rx="2.26" ry="1.18" transform="rotate(55.66 126 1019)" fill="#3c4888" opacity="0.6"/>
<ellipse cx="142" cy="1028" rx="1.3" ry="1.36" transform="rotate(85.34 142 1028)" fill="#3c4888" opacity="0.6"/>
<ellipse cx="164" cy="958" rx="2.4" ry="0.88" transform="rotate(146.2 164 958)" fill="#3c4888" opacity="0.6"/>
<ellipse cx="154" cy="962" rx="2.18" ry="1.35" transform="rotate(3.21 154 962)" fill="#3c4888" opacity="0.6"/>
<ellipse cx="190" cy="980" rx="1.65" ry="0.83" transform="rotate(135.37 190 980)" fill="#3c4888" opacity="0.6"/>
<ellipse cx="171" cy="975" rx="1.63" ry="1.38" transform="rotate(67.47 171 975)" fill="#3c4888" opacity="0.6"/>
<ellipse cx="160" cy="1005" rx="2.13" ry="1.32" transform="rotate(43.01 160 1005)" fill="#3c4888" opacity="0.6"/>
<ellipse cx="137" cy="960" rx="1.87" ry="1.37" transform="rotate(94.85 137 960)" fill="#3c4888" opacity="0.6"/>
<ellipse cx="150" cy="945" rx="1.63" ry="0.96" transform="rotate(141.56 150 945)" fill="#3c4888" opacity="0.6"/>
<ellipse cx="183" cy="950" rx="1.43" ry="1.16" transform="rotate(100 183 950)" fill="#3c4888" opacity="0.6"/>
<ellipse cx="92" cy="1030" rx="1.86" ry="0.88" transform="rotate(118.54 92 1030)" fill="#3c4888" opacity="0.6"/>
<ellipse cx="180" cy="1000" rx="2.3" ry="0.99" transform="rotate(59.77 180 1000)" fill="#3c4888" opacity="0.6"/>
<ellipse cx="145" cy="1010" rx="2.29" ry="1.15" transform="rotate(49.06 145 1010)" fill="#3c4888" opacity="0.6"/>
<ellipse cx="130" cy="975" rx="1.21" ry="1.25" transform="rotate(62.64 130 975)" fill="#3c4888" opacity="0.6"/>
<ellipse cx="101" cy="985" rx="1.76" ry="0.96" transform="rotate(113.96 101 985)" fill="#3c4888" opacity="0.6"/>
<ellipse cx="170" cy="1030" rx="2.07" ry="0.99" transform="rotate(13.51 170 1030)" fill="#3c4888" opacity="0.6"/>
<ellipse cx="188" cy="1020" rx="2.38" ry="1.35" transform="rotate(3.72 188 1020)" fill="#3c4888" opacity="0.6"/>
<ellipse cx="122" cy="945" rx="1.88" ry="1.21" transform="rotate(72.54 122 945)" fill="#3c4888" opacity="0.6"/>
<ellipse cx="139" cy="1036" rx="2.08" ry="1.38" transform="rotate(106.23 139 1036)" fill="#3c4888" opacity="0.6"/>
<ellipse cx="86" cy="994" rx="1.67" ry="0.92" transform="rotate(45.26 86 994)" fill="#3c4888" opacity="0.6"/>
<ellipse cx="158" cy="986" rx="1.38" ry="0.87" transform="rotate(38.23 158 986)" fill="#3c4888" opacity="0.6"/>
</g>
<path d="M153,952 L154,962" stroke="#b8c0e4" stroke-width="0.8" opacity="0.8"/>
<path d="M157,984 L158.5,990" stroke="#c8d0ec" stroke-width="1" opacity="0.8"/>
<path d="M184,966 L186,972" stroke="#b8c0e4" stroke-width="0.8" opacity="0.7"/>
<path d="M173,975.4h4.5" stroke="#fff" stroke-width="1"/><path d="M174.8,973.9L172.7,975.4L174.8,976.9Z" fill="#fff"/>
<path d="M151.6,998.4h4.5" stroke="#fff" stroke-width="1"/><path d="M153.4,996.9L151.3,998.4L153.4,999.9Z" fill="#fff"/>
</g>
<rect x="77.6" y="939.6" width="119" height="100" fill="none" stroke="#1e1e24" stroke-width="1.2"/>
<g clip-path="url(#cL2)">
<rect x="200.6" y="939.6" width="116" height="100" fill="url(#lmut)"/>
<rect x="200.6" y="939.6" width="116" height="100" fill="#000" filter="url(#fMottle)" opacity="0.35"/>
<rect x="200.6" y="939.6" width="116" height="100" fill="#000" filter="url(#fGrain)" opacity="0.12"/>
<rect x="200.6" y="939.6" width="116" height="100" fill="#fff" filter="url(#fSpeckW)" opacity="0.12"/>
<rect x="200.6" y="939.6" width="116" height="100" fill="#fff" filter="url(#fSpeckPatchy)" opacity="0.3"/>
<path d="M238,985 Q255,975 270,985" stroke="#8090c8" stroke-width="0.8" fill="none" opacity="0.5"/>
<path d="M262,1000 Q250,1010 240,1020" stroke="#8090c8" stroke-width="0.8" fill="none" opacity="0.5"/>
<path d="M222.4,946.4h4.5" stroke="#fff" stroke-width="1"/><path d="M224.2,944.9L222.1,946.4L224.2,947.9Z" fill="#fff"/>
<path d="M220.4,996.2h4.5" stroke="#fff" stroke-width="1"/><path d="M222.2,994.7L220.1,996.2L222.2,997.7Z" fill="#fff"/>
</g>
<rect x="200.6" y="939.6" width="116" height="100" fill="none" stroke="#1e1e24" stroke-width="1.2"/>
<text transform="translate(338.2,921.6) scale(1,1.12)" font-size="15" font-weight="bold" fill="#000" style="stroke:#000">m</text>
<text x="401.8" y="934" font-size="11.2" font-style="italic">Taco1<tspan font-size="8" dy="-4.2">wt/wt</tspan></text>
<text x="518.2" y="934" font-size="11.2" font-style="italic">Taco1<tspan font-size="8" dy="-4.2">mut/mut</tspan></text>
<text transform="translate(347.4,989.7) rotate(-90)" font-size="11.5" text-anchor="middle">Hemotoxylin</text>
<text transform="translate(361.4,990) rotate(-90)" font-size="11.5" text-anchor="middle">and eosin</text>
<g clip-path="url(#cM1)">
<rect x="367.6" y="939.6" width="116.8" height="100" fill="#a7949a"/>
<rect x="367.6" y="939.6" width="116.8" height="100" fill="url(#pSparse2)"/>
<path d="M422,939 C412,946 403,956 399,966 C394,978 393,992 394,1004 C395,1018 399,1030 405,1041 L486,1041 L486,939 Z" fill="#968fa2" filter="url(#fBlur1)"/>
<path d="M422,939 C412,946 403,956 399,966 C394,978 393,992 394,1004 C395,1018 399,1030 405,1041 L486,1041 L486,939 Z" fill="url(#pBand)"/>
<path d="M422,939 C412,946 403,956 399,966 C394,978 393,992 394,1004 C395,1018 399,1030 405,1041 L486,1041 L486,939 Z" fill="url(#pBand2)"/>
<path d="M486,954 L470,954 C450,954 433,959 423,969 C415,978 413,992 416,1006 C419,1020 427,1032 437,1041 L486,1041 Z" fill="#a0a8a4" filter="url(#fBlur1)"/>
<path d="M486,954 L470,954 C450,954 433,959 423,969 C415,978 413,992 416,1006 C419,1020 427,1032 437,1041 L486,1041 Z" fill="url(#pSparse)"/>
<rect x="367.6" y="939.6" width="116.8" height="100" fill="#000" filter="url(#fMottleN)" opacity="0.22"/>
<path d="M440.6,960.5v4" stroke="#fff" stroke-width="1"/><path d="M439.2,962.1L440.6,960.1L442,962.1Z" fill="#fff"/>
<path d="M417.3,992.5h4.5" stroke="#fff" stroke-width="1"/><path d="M419.1,991L417,992.5L419.1,994Z" fill="#fff"/>
<path d="M424.5,1015h4.5" stroke="#fff" stroke-width="1"/><path d="M426.3,1013.5L424.2,1015L426.3,1016.5Z" fill="#fff"/>
</g>
<rect x="367.6" y="939.6" width="116.8" height="100" fill="none" stroke="#1e1e24" stroke-width="1.2"/>
<g clip-path="url(#cM2)">
<rect x="488.2" y="939.6" width="118.8" height="100" fill="#968fa2"/>
<rect x="488.2" y="939.6" width="118.8" height="100" fill="url(#pBand)"/>
<rect x="488.2" y="939.6" width="118.8" height="100" fill="url(#pBand2)"/>
<path d="M515,939 L608,939 L608,972 C598,962 585,952 566,947 C546,943 528,945 514,952 Z" fill="#a8949c" opacity="0.85" filter="url(#fBlur1)"/>
<path d="M502,939 L517,939 C514,970 510,1005 507,1041 L493,1041 C496,1005 499,970 502,939 Z" fill="#aa949e" opacity="0.9" filter="url(#fBlur1)"/>
<path d="M523,1041 L522,982 C522,970 527,960 536,956 C546,952 558,954 566,960 C574,966 582,976 586,986 L587,1041 Z" fill="#a3aba7" filter="url(#fBlur1)"/>
<path d="M523,1041 L522,982 C522,970 527,960 536,956 C546,952 558,954 566,960 C574,966 582,976 586,986 L587,1041 Z" fill="url(#pSparse)"/>
<rect x="488.2" y="939.6" width="118.8" height="100" fill="#000" filter="url(#fMottleN)" opacity="0.18"/>
<path d="M553,990 L556,1000" stroke="#556" stroke-width="0.8" opacity="0.6"/>
<path d="M524,982h4.5" stroke="#fff" stroke-width="1"/><path d="M525.8,980.5L523.7,982L525.8,983.5Z" fill="#fff"/>
<path d="M526,1002.4h4.5" stroke="#fff" stroke-width="1"/><path d="M527.8,1000.9L525.7,1002.4L527.8,1003.9Z" fill="#fff"/>
</g>
<rect x="488.2" y="939.6" width="118.8" height="100" fill="none" stroke="#1e1e24" stroke-width="1.2"/>
<line x1="177" y1="1024.4" x2="186.4" y2="1024.4" stroke="#fff" stroke-width="1.6"/>
<text x="163" y="1035" font-size="11.2" fill="#fff" style="stroke:#fff">20 µm</text>
<line x1="298" y1="1025" x2="308" y2="1025" stroke="#fff" stroke-width="1.6"/>
<text x="283.6" y="1035" font-size="11.2" fill="#fff" style="stroke:#fff">20 µm</text>
<line x1="379.6" y1="1022.4" x2="389" y2="1022.4" stroke="#fff" stroke-width="1.6"/>
<text x="372" y="1035" font-size="11.2" fill="#fff" style="stroke:#fff">20 µm</text>
</svg>
</body></html>
